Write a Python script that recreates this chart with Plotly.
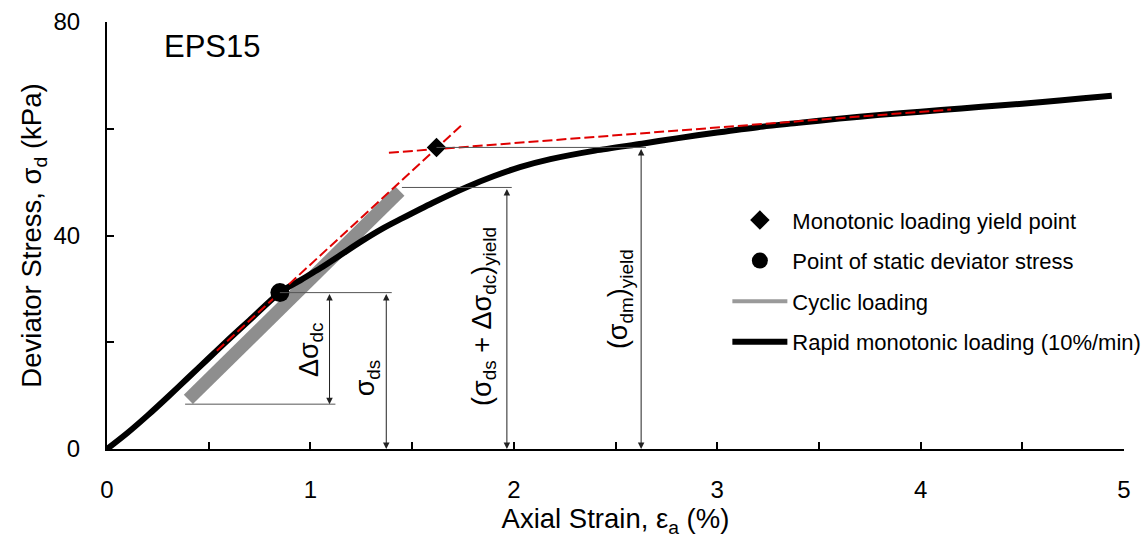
import plotly.graph_objects as go

# ---------------- data ----------------
mono_strain = [0, 0.1, 0.2, 0.3, 0.4, 0.5, 0.6, 0.7, 0.85, 0.95, 1.05, 1.15, 1.25, 1.35, 1.45,
               1.6, 1.77, 1.9, 2.03, 2.18, 2.4, 2.63, 2.8, 3.0, 3.2, 3.4, 3.6,
               3.8, 4.0, 4.2, 4.4, 4.6, 4.8, 4.94]
mono_stress = [0, 3.0, 6.3, 9.8, 13.4, 17.0, 20.6, 24.1, 29.3, 31.6, 33.9, 36.4, 38.9, 41.2, 43.2,
               46.1, 49.1, 51.1, 52.8, 54.3, 55.9, 57.2, 58.2, 59.3, 60.3, 61.1, 61.9,
               62.6, 63.2, 63.8, 64.4, 65.0, 65.7, 66.2]

cyclic_strain = [0.40, 1.44]
cyclic_stress = [9.3, 48.3]

yield_pt_strain = [1.62]
yield_pt_stress = [56.5]
static_pt_strain = [0.85]
static_pt_stress = [29.3]

tangent1_strain = [0.54, 1.75]
tangent1_stress = [18.4, 60.9]
tangent2_strain = [1.386, 4.15]
tangent2_stress = [55.5, 63.6]

# horizontal guide lines: level, start strain, end strain
guide_level = [29.3, 8.4, 49.0, 56.5]
guide_x0 = [0.85, 0.384, 1.45, 1.62]
guide_x1 = [1.40, 1.123, 1.99, 2.65]

# vertical double arrows: strain position, bottom, top
arrow_x = [1.373, 1.094, 1.966, 2.626]
arrow_bot = [0, 8.4, 0, 0]
arrow_top = [29.3, 29.3, 49.0, 56.5]

# rotated labels
lab_text = ["Δσ<sub>dc</sub>", "σ<sub>ds</sub>",
            "(σ<sub>ds</sub> + Δσ<sub>dc</sub>)<sub>yield</sub>", "(σ<sub>dm</sub>)<sub>yield</sub>"]
lab_x = [1.0, 1.28, 1.85, 2.52]
lab_y = [18.6, 13.3, 24.8, 28.0]

x_ticks = [0, 1, 2, 3, 4, 5]
y_ticks = [0, 40, 80]

FONT = "Arial, Liberation Sans, sans-serif"

fig = go.Figure()

# cyclic band
fig.add_trace(go.Scatter(x=cyclic_strain, y=cyclic_stress, mode="lines",
                         line=dict(color="#8e8e8e", width=13), showlegend=False, hoverinfo="skip"))
# monotonic curve
fig.add_trace(go.Scatter(x=mono_strain, y=mono_stress, mode="lines",
                         line=dict(color="black", width=6, shape="spline", smoothing=0.8),
                         showlegend=False, hoverinfo="skip"))
# tangents
for tx, ty in [(tangent1_strain, tangent1_stress), (tangent2_strain, tangent2_stress)]:
    fig.add_trace(go.Scatter(x=tx, y=ty, mode="lines",
                             line=dict(color="#e00000", width=2, dash="10px,4px"),
                             showlegend=False, hoverinfo="skip"))
# points
fig.add_trace(go.Scatter(x=static_pt_strain, y=static_pt_stress, mode="markers",
                         marker=dict(symbol="circle", size=19, color="black"), showlegend=False))
fig.add_trace(go.Scatter(x=yield_pt_strain, y=yield_pt_stress, mode="markers",
                         marker=dict(symbol="diamond", size=15, color="black"), showlegend=False))

# legend entries
fig.add_trace(go.Scatter(x=[None], y=[None], mode="markers", name="Monotonic loading yield point",
                         marker=dict(symbol="diamond", size=15, color="black"), legendgroup="a"))
fig.add_trace(go.Scatter(x=[None], y=[None], mode="markers", name="Point of static deviator stress",
                         marker=dict(symbol="circle", size=17, color="black"), legendgroup="b"))
fig.add_trace(go.Scatter(x=[None], y=[None], mode="lines", name="Cyclic loading",
                         line=dict(color="#9a9a9a", width=4), legendgroup="c"))
fig.add_trace(go.Scatter(x=[None], y=[None], mode="lines", name="Rapid monotonic loading (10%/min)",
                         line=dict(color="black", width=6), legendgroup="d"))

shapes = []
for lv, a, b in zip(guide_level, guide_x0, guide_x1):
    shapes.append(dict(type="line", xref="x", yref="y", x0=a, x1=b, y0=lv, y1=lv,
                       line=dict(color="#555555", width=1)))

annotations = []
for ax_, lo, hi in zip(arrow_x, arrow_bot, arrow_top):
    annotations.append(dict(x=ax_, y=lo, ax=ax_, ay=hi, xref="x", yref="y", axref="x", ayref="y",
                            text="", showarrow=True, arrowhead=2, arrowside="end+start",
                            arrowsize=1.3, arrowwidth=1, arrowcolor="#222222", standoff=0, startstandoff=0))
for t, x, y in zip(lab_text, lab_x, lab_y):
    annotations.append(dict(x=x, y=y, xref="x", yref="y", text=t, textangle=-90, showarrow=False,
                            font=dict(family=FONT, size=27, color="black")))
annotations.append(dict(x=0.52, y=75.4, xref="x", yref="y", text="EPS15", showarrow=False,
                        font=dict(family=FONT, size=31, color="black")))

fig.update_layout(
    width=1144, height=543,
    margin=dict(l=107, r=20, t=22, b=94, autoexpand=False),
    plot_bgcolor="white", paper_bgcolor="white",
    font=dict(family=FONT, color="black"),
    shapes=shapes, annotations=annotations,
    legend=dict(x=0.61, y=0.585, xanchor="left", yanchor="top",
                font=dict(family=FONT, size=22, color="black"),
                tracegroupgap=9, itemwidth=55, bgcolor="rgba(0,0,0,0)"),
    xaxis=dict(range=[0, 5], tickvals=x_ticks, showgrid=False, zeroline=False,
               showline=True, linecolor="black", linewidth=2,
               ticks="inside", ticklen=7, tickwidth=2, tickcolor="black",
               minor=dict(dtick=0.5, ticks="inside", ticklen=7, tickwidth=2, tickcolor="black"),
               tickfont=dict(family=FONT, size=24), ticklabelstandoff=18,
               title=dict(text="Axial Strain, ε<sub>a</sub> (%)", font=dict(family=FONT, size=27.5), standoff=4)),
    yaxis=dict(range=[0, 80], tickvals=y_ticks, showgrid=False, zeroline=False,
               showline=True, linecolor="black", linewidth=2,
               ticks="inside", ticklen=7, tickwidth=2, tickcolor="black",
               minor=dict(dtick=20, ticks="inside", ticklen=7, tickwidth=2, tickcolor="black"),
               tickfont=dict(family=FONT, size=24), ticklabelstandoff=20,
               title=dict(text="Deviator Stress, σ<sub>d</sub> (kPa)", font=dict(family=FONT, size=27.5), standoff=4)),
)

fig.write_html("out.html")
